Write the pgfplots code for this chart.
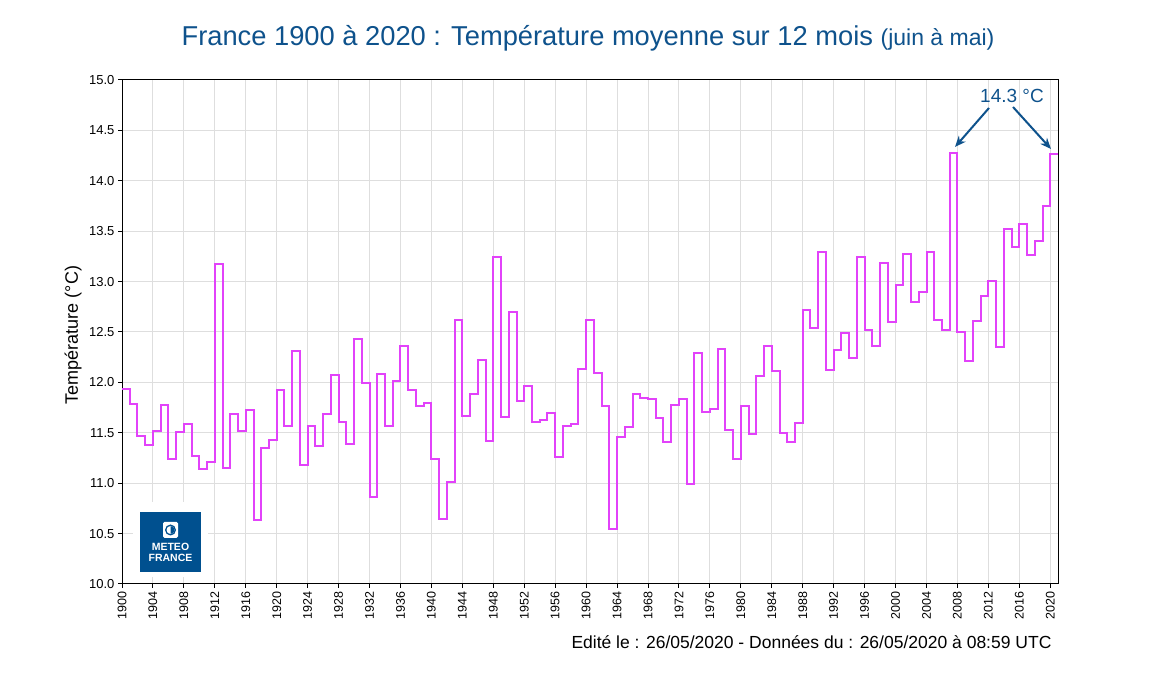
\documentclass[border=0pt]{standalone}
\usepackage{pgfplots}
\pgfplotsset{compat=1.18}
\usepackage{pgfplotstable}
\usepackage{fontspec}
\setmainfont{Liberation Sans}
\usetikzlibrary{arrows.meta}

\definecolor{mfblue}{RGB}{0,80,143}
\definecolor{titleblue}{RGB}{14,82,140}
\definecolor{courbe}{RGB}{226,66,250}
\definecolor{grille}{RGB}{222,222,222}

% temperature moyenne juin (annee) a mai (annee+1)
\pgfplotstableread{
annee temp
1900 11.93
1901 11.79
1902 11.47
1903 11.38
1904 11.52
1905 11.78
1906 11.24
1907 11.51
1908 11.59
1909 11.27
1910 11.14
1911 11.21
1912 13.17
1913 11.15
1914 11.69
1915 11.52
1916 11.73
1917 10.63
1918 11.35
1919 11.43
1920 11.92
1921 11.57
1922 12.31
1923 11.18
1924 11.57
1925 11.37
1926 11.69
1927 12.07
1928 11.61
1929 11.39
1930 12.43
1931 11.99
1932 10.86
1933 12.08
1934 11.57
1935 12.01
1936 12.36
1937 11.92
1938 11.77
1939 11.80
1940 11.24
1941 10.64
1942 11.01
1943 12.62
1944 11.67
1945 11.88
1946 12.22
1947 11.42
1948 13.24
1949 11.66
1950 12.70
1951 11.82
1952 11.96
1953 11.61
1954 11.63
1955 11.70
1956 11.26
1957 11.57
1958 11.59
1959 12.13
1960 12.62
1961 12.09
1962 11.77
1963 10.55
1964 11.46
1965 11.56
1966 11.88
1967 11.85
1968 11.84
1969 11.65
1970 11.41
1971 11.78
1972 11.84
1973 10.99
1974 12.29
1975 11.71
1976 11.74
1977 12.33
1978 11.53
1979 11.24
1980 11.77
1981 11.49
1982 12.06
1983 12.36
1984 12.11
1985 11.50
1986 11.41
1987 11.60
1988 12.72
1989 12.54
1990 13.29
1991 12.12
1992 12.32
1993 12.49
1994 12.24
1995 13.24
1996 12.52
1997 12.36
1998 13.18
1999 12.60
2000 12.97
2001 13.27
2002 12.80
2003 12.90
2004 13.29
2005 12.62
2006 12.52
2007 14.28
2008 12.50
2009 12.21
2010 12.61
2011 12.86
2012 13.01
2013 12.35
2014 13.52
2015 13.34
2016 13.57
2017 13.26
2018 13.40
2019 13.75
2020 14.27
2021 14.27
}\tmoy

\begin{document}
\begin{tikzpicture}[x=1pt,y=1pt]
\useasboundingbox (0,0) rectangle (1149,676);

\begin{axis}[
  at={(122pt,92pt)}, anchor=south west,
  width=936pt, height=504pt, scale only axis,
  xmin=1900, xmax=2021, ymin=10, ymax=15,
  xtick={1900,1904,...,2020},
  minor x tick num=3,
  ytick={10,10.5,...,15},
  xmajorgrids, xminorgrids, ymajorgrids,
  major grid style={grille, line width=1pt},
  minor grid style={grille, line width=1pt},
  axis line style={black, line width=1pt},
  tick align=outside,
  major tick length=4pt, minor tick length=0pt,
  tick style={black, line width=1pt},
  xtick pos=bottom, ytick pos=left,
  /pgf/number format/assume math mode=true,
  xticklabel style={rotate=90, anchor=east, font=\fontsize{12.5}{14}\selectfont,
    /pgf/number format/1000 sep={}},
  yticklabel style={font=\fontsize{13}{15}\selectfont,
    /pgf/number format/fixed, /pgf/number format/fixed zerofill,
    /pgf/number format/precision=1},
]
\addplot[const plot mark left, courbe, line width=2pt, no marks]
  table[x=annee, y=temp] {\tmoy};
\end{axis}

% logo
\fill[white] (133,99) rectangle (208,174);
\fill[mfblue] (140,104) rectangle (201,164);
\fill[white, rounded corners=1.5pt] (163,138) rectangle (178,154);
\fill[mfblue] (170.5,146) circle (5.5pt);
\fill[white] (170.5,146) circle (4pt);
\fill[mfblue] (170.5,142) arc (-90:90:4pt) -- cycle;
\node[white, font=\fontsize{10.5}{11}\selectfont\bfseries] at (170.5,129) {METEO};
\node[white, font=\fontsize{10.5}{11}\selectfont\bfseries] at (170.5,118.5) {FRANCE};

% titre
\node[anchor=base, titleblue, font=\fontsize{27.3}{31}\selectfont] at (588,630)
  {France 1900 à 2020 : Température moyenne sur 12 mois {\fontsize{23}{27}\selectfont(juin à mai)}};

% axe y
\node[rotate=90, font=\fontsize{18}{21}\selectfont] at (73,341) {Température (°C)};

% record
\node[anchor=base, titleblue, font=\fontsize{19}{22}\selectfont] at (1012,573) {14.3 °C};
\draw[titleblue, line width=2pt, -{Stealth[length=11pt,width=9pt]}] (989,568) -- (955,529);
\draw[titleblue, line width=2pt, -{Stealth[length=11pt,width=9pt]}] (1013,569) -- (1051,527);

% pied
\node[anchor=base east, font=\fontsize{17.5}{21}\selectfont] at (1055,27)
  {Edité le : 26/05/2020 - Données du : 26/05/2020 à 08:59 UTC};
\end{tikzpicture}
\end{document}
